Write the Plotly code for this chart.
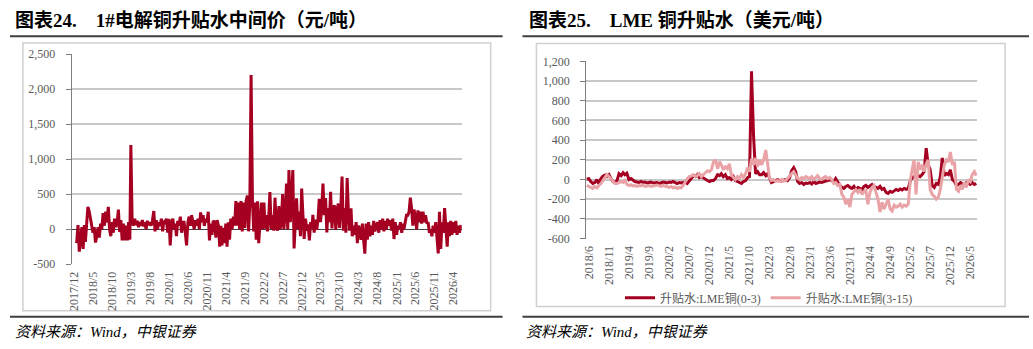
import plotly.graph_objects as go
from datetime import date

# ---------------- data: 1#电解铜升贴水中间价 (元/吨), dekad points ----------------
spot_2017 = [-200]
spot_2018 = [60, -320, -150, 30, -280, 60, -180, 40, 320, 250, 150, 60,
             -50, 30, -190, -100, 30, -120, 80, 0, 230, 50, 250, 100,
             320, 0, -100, 100, -50, 150, 30, 100, 280, -40, 130, -160]
spot_2019 = [80, -160, 50, -160, 100, -150, 1200, 150, 50, 150, 60, 120,
             30, 100, 50, 130, 40, 100, 0, 120, 60, 100, 50, 120,
             260, -30, 130, 0, 100, 50, 150, -30, 120, 100, 150, -50]
spot_2020 = [150, -230, 80, 150, 0, 80, -100, 120, 50, 180, -50, 100,
             100, -50, -230, 100, 180, 50, 200, 100, 0, 130, 50, 150,
             0, 240, 100, 200, 50, 150, 100, 250, -160, 80, -80, 120]
spot_2021 = [100, -120, 130, 50, -250, 50, -230, 20, -200, 80, -250, 100,
             -150, 150, 0, 180, 50, 400, 50, 380, 0, 400, -30, 380,
             20, 400, 480, -30, 380, 2200, 400, -30, 380, -150, 400, -200]
spot_2022 = [100, 380, 0, 380, 10, 200, -30, 150, 530, 0, 200, -20,
             450, 50, -20, 330, 0, 100, 500, 0, 200, 650, 0, 845,
             100, 400, 845, -274, 100, 440, 0, 250, -100, 580, 205, -137]
spot_2023 = [150, -20, 70, -160, 100, 10, 205, -50, 137, -10, 137, 434,
             100, 300, 653, 200, 443, -46, 300, 100, 534, 10, 300, 342,
             -10, 280, 365, 20, 300, 753, -20, 300, -50, 730, 250, -20]
spot_2024 = [300, -100, 50, -80, 100, -200, 50, 0, -150, 80, -150, -350,
             80, -150, 100, -100, 50, -80, 120, -30, 50, 100, -50, 130,
             0, 150, -30, 120, 0, 150, 50, 130, -20, 150, -140, 100]
spot_2025 = [-80, 50, 0, 100, -50, 80, 0, 100, 200, 200, 250, 450,
             300, 50, 280, 150, 0, 270, 100, 250, 80, 250, 100, 200,
             80, 100, -50, 0, -100, 50, -50, 100, -100, -345, 250, -280]
spot_2026 = [100, -50, 300, 50, -250, 100, -100, 120, -80, 100, -50, 120,
             -80, 50, -50, 60]

# ---------------- data: LME铜升贴水 (美元/吨), semi-monthly points ----------------
lme03_2018 = [5, 10, -20, -40, -30, 0, -45, 10, 35, 45, 30, 50, 10, -20, -30]
lme03_2019 = [-10, 60, 40, 70, 50, 65, 0, 10, -10, -20, -25, -30,
              -20, -30, -25, -35, -30, -25, -35, -30, -30, -40, -30, -25]
lme03_2020 = [-30, -35, -25, -30, -20, -30, -40, -30, -35, -30, -25, -40,
              -20, 10, 40, 30, 50, 20, 30, 15, 0, -10, -20, -10]
lme03_2021 = [-10, 10, 50, 40, 60, 30, 50, 10, 20, 0, 30, -10,
              -20, -30, -40, -20, -10, 20, 30, 1100, 430, 60, 80, 50]
lme03_2022 = [50, 70, 40, 60, 20, -30, -20, -10, 0, -10, -15, -5,
              0, -10, 20, 90, 120, 80, -20, -40, -30, -50, -35, -40]
lme03_2023 = [-30, -45, -20, -40, -35, -25, -30, -20, -15, -10, 0, -10,
              -20, 10, -30, -60, -80, -90, -70, -60, -80, -90, -70, -100]
lme03_2024 = [-80, -90, -100, -70, -60, -80, -60, -50, -70, -80, -90, -70,
              -100, -90, -130, -140, -120, -130, -110, -100, -110, -95, -105, -90]
lme03_2025 = [-100, -90, -10, 20, 30, 10, 40, 30, 50, 80, 320, 150,
              100, -60, -80, -40, -50, 30, 220, 40, 60, 50, 100, 0]
lme03_2026 = [-20, -60, -50, -30, -40, -50, -30, -40, -50, -30, -50, -40]

lme315_2018 = [-60, -70, -80, -90, -70, -85, -60, -40, -10, 20, 50, 30, 10, -20, -40]
lme315_2019 = [-40, -30, -20, -30, -10, -50, -60, -55, -65, -60, -70, -60,
               -65, -55, -70, -65, -60, -70, -65, -60, -55, -65, -70, -60]
lme315_2020 = [-65, -75, -80, -70, -85, -75, -90, -80, -85, -60, -20, 10,
               30, 35, 50, 30, 40, 60, 30, 50, 70, 90, 80, 100]
lme315_2021 = [180, 200, 110, 180, 150, 100, 130, 110, 160, 50, 20, 0,
               30, 10, 50, 20, 60, 120, 80, 210, 150, 220, 130, 200]
lme315_2022 = [150, 200, 300, 150, 20, -10, 0, -20, -10, -20, 0, -15,
               -10, 10, 40, 60, 80, 40, 10, 0, 20, 10, 30, 20]
lme315_2023 = [10, 30, 0, 20, 40, 10, 0, 20, 30, 10, 20, 0,
               -40, -30, -60, -50, -150, -180, -250, -200, -280, -150, -120, -100]
lme315_2024 = [-130, -100, -150, -120, -110, -250, -130, -80, -60, -120, -200, -330,
               -230, -300, -250, -200, -300, -320, -260, -280, -270, -250, -280, -260]
lme315_2025 = [-270, -250, 0, 100, 200, -150, 180, 100, 150, 80, 160, 200,
               -100, -150, -170, -200, -180, -100, 50, 150, 200, 180, 280, 150]
lme315_2026 = [180, -100, -120, -60, -100, -30, -80, 0, -20, 50, 80, 40]

# ---------------- axis labels ----------------
left_xtick_labels = ["2017/12", "2018/5", "2018/10", "2019/3", "2019/8", "2020/1", "2020/6",
                     "2020/11", "2021/4", "2021/9", "2022/2", "2022/7", "2022/12", "2023/5",
                     "2023/10", "2024/3", "2024/8", "2025/1", "2025/6", "2025/11", "2026/4"]
right_xtick_labels = ["2018/6", "2018/11", "2019/4", "2019/9", "2020/2", "2020/7", "2020/12",
                      "2021/5", "2021/10", "2022/3", "2022/8", "2023/1", "2023/6", "2023/11",
                      "2024/4", "2024/9", "2025/2", "2025/7", "2025/12", "2026/5"]
left_ytick_vals = [-500, 0, 500, 1000, 1500, 2000, 2500]
left_ytick_text = ["-500", "0", "500", "1,000", "1,500", "2,000", "2,500"]
right_ytick_vals = [-600, -400, -200, 0, 200, 400, 600, 800, 1000, 1200]
right_ytick_text = ["-600", "-400", "-200", "0", "200", "400", "600", "800", "1,000", "1,200"]

left_title = "图表24.\u00a0\u00a0\u00a0\u00a01#电解铜升贴水中间价（元/吨）"
right_title = "图表25.\u00a0\u00a0\u00a0\u00a0LME 铜升贴水（美元/吨）"
source_text = "资料来源：Wind，中银证券"
name03 = "升贴水:LME铜(0-3)"
name315 = "升贴水:LME铜(3-15)"


def label_to_date(s):
    y, m = s.split("/")
    return date(int(y), int(m), 1)


def dekad_dates(year, months):
    return [date(year, m, d) for m in months for d in (1, 11, 21)]


def semimonth_dates(year, months):
    return [date(year, m, d) for m in months for d in (1, 16)]


spot_values = (spot_2017 + spot_2018 + spot_2019 + spot_2020 + spot_2021 + spot_2022
               + spot_2023 + spot_2024 + spot_2025 + spot_2026)
spot_dates = [date(2017, 12, 21)]
for yr in range(2018, 2026):
    spot_dates += dekad_dates(yr, range(1, 13))
spot_dates += dekad_dates(2026, range(1, 6)) + [date(2026, 6, 1)]

lme03_values = (lme03_2018 + lme03_2019 + lme03_2020 + lme03_2021 + lme03_2022
                + lme03_2023 + lme03_2024 + lme03_2025 + lme03_2026)
lme315_values = (lme315_2018 + lme315_2019 + lme315_2020 + lme315_2021 + lme315_2022
                 + lme315_2023 + lme315_2024 + lme315_2025 + lme315_2026)
lme_dates = [date(2018, 5, 16)] + semimonth_dates(2018, range(6, 13))
for yr in range(2019, 2026):
    lme_dates += semimonth_dates(yr, range(1, 13))
lme_dates += semimonth_dates(2026, range(1, 7))

n = min(len(spot_dates), len(spot_values))
spot_dates, spot_values = spot_dates[:n], spot_values[:n]
m = min(len(lme_dates), len(lme03_values), len(lme315_values))
lme_dates = lme_dates[:m]

# ---------------- figure ----------------
W, H = 1033, 349


def px(x):
    return x / W


def py(y):
    return 1 - y / H


DARK = "#A50021"
PINK = "#E9A3A6"
GRID = "#C8C8C8"
TXT = "#595959"
SERIF = "Liberation Serif, 'Noto Sans CJK SC', serif"

fig = go.Figure()
fig.add_trace(go.Scatter(x=spot_dates, y=spot_values, mode="lines",
                         line=dict(color=DARK, width=3), showlegend=False,
                         xaxis="x", yaxis="y"))
fig.add_trace(go.Scatter(x=lme_dates, y=lme03_values[:m], mode="lines", name=name03,
                         line=dict(color=DARK, width=3), xaxis="x2", yaxis="y2"))
fig.add_trace(go.Scatter(x=lme_dates, y=lme315_values[:m], mode="lines", name=name315,
                         line=dict(color=PINK, width=3), xaxis="x2", yaxis="y2"))

tickfont = dict(family=SERIF, size=12, color=TXT)

xcommon = dict(type="date", showgrid=False, zeroline=False, showline=False, ticks="",
               tickangle=-90, tickfont=tickfont, ticklabelstandoff=4)
ycommon = dict(showgrid=True, gridcolor=GRID, gridwidth=1.5, showline=True,
               linecolor="#7F7F7F", linewidth=1, ticks="outside", ticklen=5,
               tickcolor="#7F7F7F", tickfont=tickfont, ticklabelstandoff=8)

fig.update_layout(
    width=W, height=H, autosize=False,
    margin=dict(l=0, r=0, t=0, b=0),
    paper_bgcolor="white", plot_bgcolor="white",
    xaxis=dict(domain=[px(67), px(459)], anchor="y",
               range=["2017-11-11", "2026-06-08"],
               tickvals=[label_to_date(s) for s in left_xtick_labels],
               ticktext=left_xtick_labels, **xcommon),
    yaxis=dict(domain=[py(268), py(49)], anchor="x", range=[-500, 2500],
               tickvals=left_ytick_vals, ticktext=left_ytick_text,
               zeroline=True, zerolinecolor="#404040", zerolinewidth=1, **ycommon),
    xaxis2=dict(domain=[px(584), px(977)], anchor="y2",
                range=["2018-05-12", "2026-06-23"],
                tickvals=[label_to_date(s) for s in right_xtick_labels],
                ticktext=right_xtick_labels, **xcommon),
    yaxis2=dict(domain=[py(241.3), py(56.7)], anchor="x2", range=[-600, 1200],
                tickvals=right_ytick_vals, ticktext=right_ytick_text,
                zeroline=False, **ycommon),
    legend=dict(orientation="h", x=px(618), xanchor="left", y=py(303),
                yanchor="middle", font=dict(family=SERIF, size=12, color=TXT),
                bgcolor="rgba(0,0,0,0)", itemwidth=30, tracegroupgap=0),
    showlegend=True,
)

# frames and rules
shapes = []
for (x0, x1, y0, y1) in [(18, 488, 37.5, 316.5), (534, 1005, 38, 312)]:
    shapes.append(dict(type="rect", xref="paper", yref="paper",
                       x0=px(x0), x1=px(x1), y0=py(y1), y1=py(y0),
                       line=dict(color="#D0D0D0", width=1.5), layer="below"))
for (x0, x1) in [(5, 500), (520, 1029)]:
    for yy in (30.5, 322.7):
        shapes.append(dict(type="line", xref="paper", yref="paper",
                           x0=px(x0), x1=px(x1), y0=py(yy), y1=py(yy),
                           line=dict(color="#3F3F3F", width=2)))
fig.update_layout(shapes=shapes)

annotations = [
    dict(text=f"<b>{left_title}</b>", x=px(8), y=py(14), xref="paper", yref="paper",
         xanchor="left", yanchor="middle", showarrow=False,
         font=dict(family=SERIF, size=19, color="#000000")),
    dict(text=f"<b>{right_title}</b>", x=px(525), y=py(14), xref="paper", yref="paper",
         xanchor="left", yanchor="middle", showarrow=False,
         font=dict(family=SERIF, size=19, color="#000000")),
    dict(text=f"<i>{source_text}</i>", x=px(8), y=py(339), xref="paper", yref="paper",
         xanchor="left", yanchor="middle", showarrow=False,
         font=dict(family=SERIF, size=15, color="#000000")),
    dict(text=f"<i>{source_text}</i>", x=px(522), y=py(339), xref="paper", yref="paper",
         xanchor="left", yanchor="middle", showarrow=False,
         font=dict(family=SERIF, size=15, color="#000000")),
]
fig.update_layout(annotations=annotations)

fig.write_html("out.html")
